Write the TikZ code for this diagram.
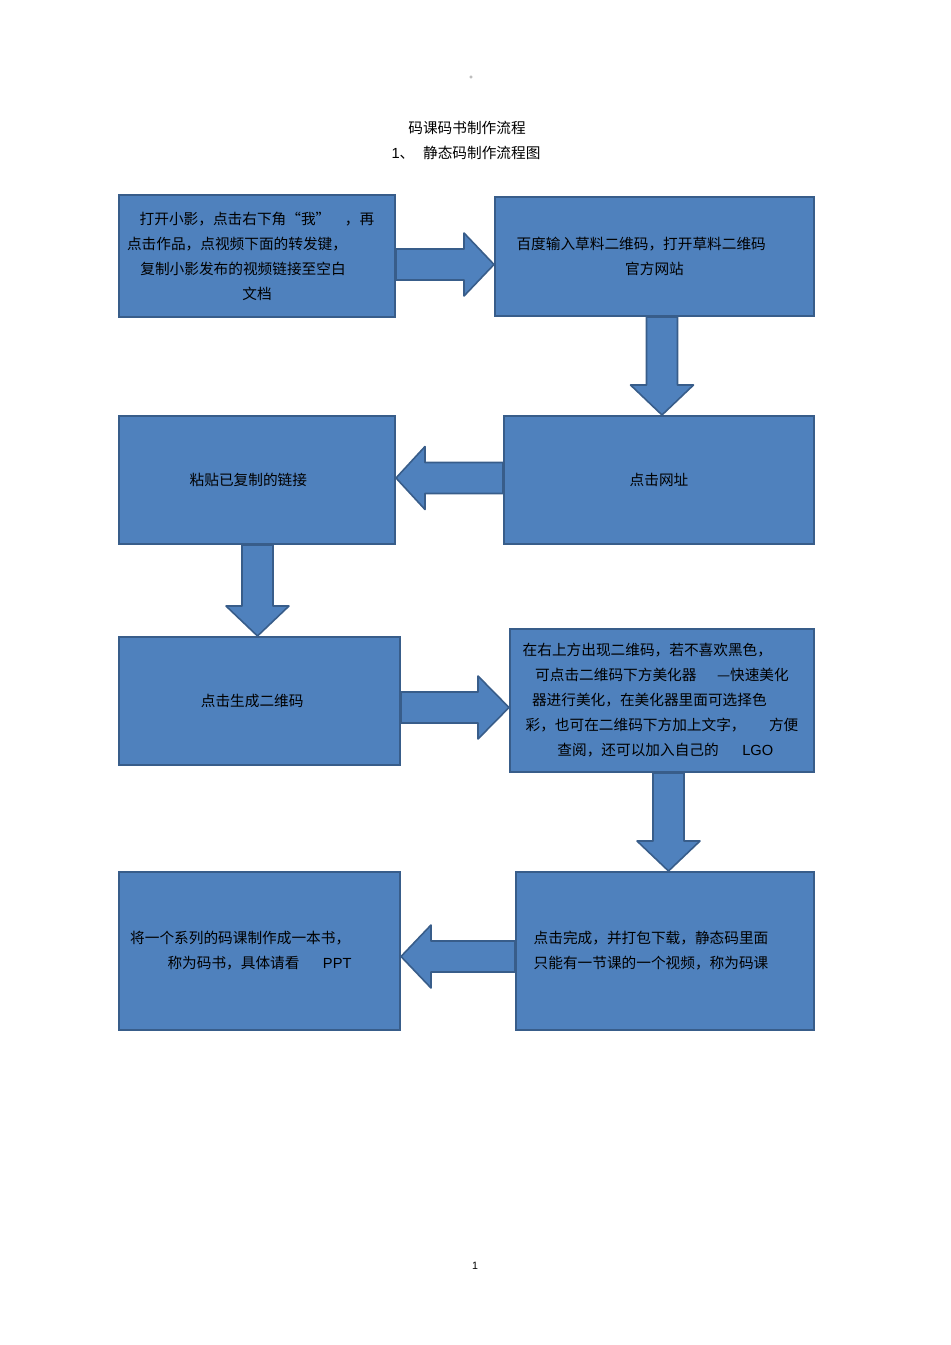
\documentclass[tikz,border=0pt]{standalone}
\usepackage{fontspec}
\setmainfont{Noto Sans CJK SC}
\newfontfamily\latin{Liberation Sans}
\usetikzlibrary{calc}
\definecolor{boxblue}{HTML}{4F81BD}
\definecolor{boxline}{HTML}{385D8A}
\newcommand{\pad}[1]{\rule{#1pt}{0pt}}
% block arrow, left to right or right to left: start, tip, head length
\newcommand{\harrow}[3]{%
  \draw[blockarrow] ($(#1)+(0,-15.5)$) -- ($(#2)-(#3,15.5)$) -- ($(#2)-(#3,31.5)$)
    -- (#2) -- ($(#2)-(#3,-31.5)$) -- ($(#2)-(#3,-15.5)$) -- ($(#1)+(0,15.5)$) -- cycle;}
% block arrow, top to bottom: start, tip
\newcommand{\varrow}[2]{%
  \draw[blockarrow] ($(#1)+(-15.5,0)$) -- ($(#2)+(-15.5,-30)$) -- ($(#2)+(-31.5,-30)$)
    -- (#2) -- ($(#2)+(31.5,-30)$) -- ($(#2)+(15.5,-30)$) -- ($(#1)+(15.5,0)$) -- cycle;}

\begin{document}
\begin{tikzpicture}[x=0.75pt,y=-0.75pt,
    box/.style={draw=boxline, fill=boxblue, line width=1.5pt, align=center,
      font=\fontsize{11}{18.75}\selectfont},
    blockarrow/.style={draw=boxline, fill=boxblue, line width=1.2pt, line join=round}]

    \useasboundingbox (0,0) rectangle (950,1345);

    % Heading
    \node[circle, draw=black!35, inner sep=0.7pt] (dot) at (471,77) {};
    \node[font=\fontsize{11}{13}\selectfont] (title) at (467,128) {码课码书制作流程};
    \node[font=\fontsize{11}{13}\selectfont] (subtitle) at (466,153) {{\latin 1}、\hspace{0.6em}静态码制作流程图};

    % Boxes
    \node[box, minimum width=276*0.75pt, minimum height=122*0.75pt] (b1) at (257,256)
      {打开小影，点击右下角“我”\hspace{1em}，再\\
       点击作品，点视频下面的转发键，\pad{30}\\
       复制小影发布的视频链接至空白\pad{21}\\
       文档};
    \node[box, minimum width=319*0.75pt, minimum height=119*0.75pt] (b2) at (654.5,256.5)
      {百度输入草料二维码，打开草料二维码\pad{20}\\
       官方网站};
    \node[box, minimum width=310*0.75pt, minimum height=128*0.75pt] (b3) at (659,480)
      {点击网址};
    \node[box, minimum width=276*0.75pt, minimum height=128*0.75pt] (b4) at (257,480)
      {粘贴已复制的链接\pad{13}};
    \node[box, minimum width=281*0.75pt, minimum height=128*0.75pt] (b5) at (259.5,701)
      {点击生成二维码\pad{11}};
    \node[box, minimum width=304*0.75pt, minimum height=143*0.75pt] (b6) at (662,700.5)
      {在右上方出现二维码，若不喜欢黑色，\pad{22}\\
       可点击二维码下方美化器\hspace{1.4em}—快速美化\\
       器进行美化，在美化器里面可选择色\pad{19}\\
       彩，也可在二维码下方加上文字，\hspace{1.6em}方便\\
       \pad{5}查阅，还可以加入自己的\hspace{1.6em}{\latin LGO}};
    \node[box, minimum width=298*0.75pt, minimum height=158*0.75pt] (b7) at (665,951)
      {点击完成，并打包下载，静态码里面\pad{21}\\
       只能有一节课的一个视频，称为码课\pad{21}};
    \node[box, minimum width=281*0.75pt, minimum height=158*0.75pt] (b8) at (259.5,951)
      {将一个系列的码课制作成一本书，\pad{29}\\
       称为码书，具体请看\hspace{1.6em}{\latin PPT}};

    % Block arrows
    \coordinate (a1s) at ($(b1.east)+(0,8.5)$);
    \coordinate (a1t) at (b2.west |- a1s);
    \harrow{a1s}{a1t}{30}

    \coordinate (a2s) at ($(b2.south)+(7.5,0)$);
    \coordinate (a2t) at (b3.north -| a2s);
    \varrow{a2s}{a2t}

    \coordinate (a3s) at ($(b3.west)+(0,-2)$);
    \coordinate (a3t) at (b4.east |- a3s);
    \harrow{a3s}{a3t}{-29}

    \coordinate (a4s) at ($(b4.south)+(0.5,0)$);
    \coordinate (a4t) at (b5.north -| a4s);
    \varrow{a4s}{a4t}

    \coordinate (a5s) at ($(b5.east)+(0,6.5)$);
    \coordinate (a5t) at (b6.west |- a5s);
    \harrow{a5s}{a5t}{31}

    \coordinate (a6s) at ($(b6.south)+(6.5,0)$);
    \coordinate (a6t) at (b7.north -| a6s);
    \varrow{a6s}{a6t}

    \coordinate (a7s) at ($(b7.west)+(0,5.5)$);
    \coordinate (a7t) at (b8.east |- a7s);
    \harrow{a7s}{a7t}{-30}

    % Page number
    \node[font=\latin\fontsize{8}{10}\selectfont] (page) at (475,1266) {1};

\end{tikzpicture}
\end{document}
